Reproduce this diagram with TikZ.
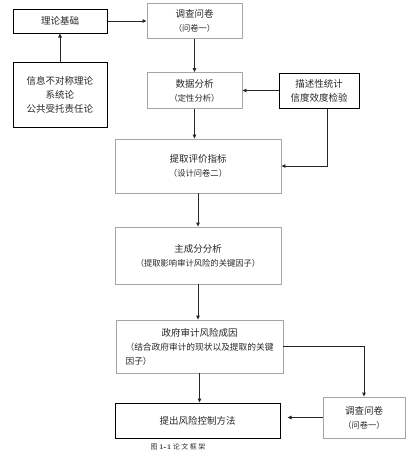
\documentclass[tikz,border=0pt]{standalone}
\usepackage{fontspec}
\newfontfamily\cjk{Noto Sans CJK SC}
\usepackage{xcolor}
\usetikzlibrary{positioning,arrows.meta}

\tikzset{
  box/.style={draw=gray!70, line width=0.8pt, inner sep=1pt, align=center,
    text=black!85, font=\cjk\fontsize{9.5}{14}\selectfont},
  darkbox/.style={box, draw=black, line width=1pt},
}

\begin{document}
\begin{tikzpicture}[x=1pt,y=-1pt,->,>={Triangle[length=4pt,width=3.5pt]},
    on grid, line width=0.9pt, draw=black!85]
   \useasboundingbox (0,0) rectangle (416,463);
   \node[darkbox, minimum width=94pt, minimum height=24pt] (theory) at (60,21) {理论基础};
   \node[darkbox, minimum width=94pt, minimum height=65pt] (info) [below=73.5pt of theory]
      {信息不对称理论\\系统论\\公共受托责任论};
   \node[box, minimum width=95pt, minimum height=35pt] (survey) [right=134.5pt of theory]
      {调查问卷\\{\fontsize{8.3}{12}\selectfont （问卷一）}};
   \node[box, minimum width=95pt, minimum height=36pt] (data) [below=69.5pt of survey]
      {数据分析\\{\fontsize{8.3}{12}\selectfont （定性分析）}};
   \node[darkbox, minimum width=80pt, minimum height=35pt] (desc) [right=124.5pt of data]
      {描述性统计\\信度效度检验};
   \node[box, minimum width=166pt, minimum height=54pt] (index) [below right=75.5pt and 3.5pt of data]
      {提取评价指标\\{\fontsize{8.3}{12}\selectfont （设计问卷二）}};
   \node[box, minimum width=166pt, minimum height=57pt] (pca) [below=89.5pt of index]
      {主成分分析\\{\fontsize{8.3}{12}\selectfont （提取影响审计风险的关键因子）}};
   \node[box, minimum width=167pt, minimum height=53pt] (cause) [below right=91pt and 1.5pt of pca]
      {政府审计风险成因\\{\fontsize{8.7}{12.5}\selectfont （结合政府审计的现状以及提取的关键}\\
       {\fontsize{8.7}{12.5}\selectfont \rlap{因子）}\phantom{（结合政府审计的现状以及提取的关键}}};
   \node[darkbox, minimum width=165pt, minimum height=35pt] (method) [below left=74pt and 2pt of cause]
      {提出风险控制方法};
   \node[box, minimum width=82pt, minimum height=41pt] (survey2) [above right=3pt and 166.5pt of method]
      {调查问卷\\{\fontsize{8.3}{12}\selectfont （问卷一）}};
   \node[font=\cjk\fontsize{7}{8}\selectfont, text=black!80] (caption) [below left=26.5pt and 19.5pt of method]
      {图 {\rmfamily\bfseries 1-1} 论\hspace{1.5pt}文\hspace{1.5pt}框\hspace{1.5pt}架};

    \path
    (info) edge (theory)
    (theory) edge (survey)
    (survey) edge (data)
    (data) edge (data |- index.north)
    (desc) edge (data)
    (index) edge (pca)
    (pca) edge (pca |- cause.north)
    (cause) edge (cause |- method.north)
    (survey2) edge [shorten >=7pt] (survey2 -| method.east);
    \draw ([xshift=8pt]desc.south) |- (index);
    \draw (cause) -| (survey2);
\end{tikzpicture}
\end{document}
